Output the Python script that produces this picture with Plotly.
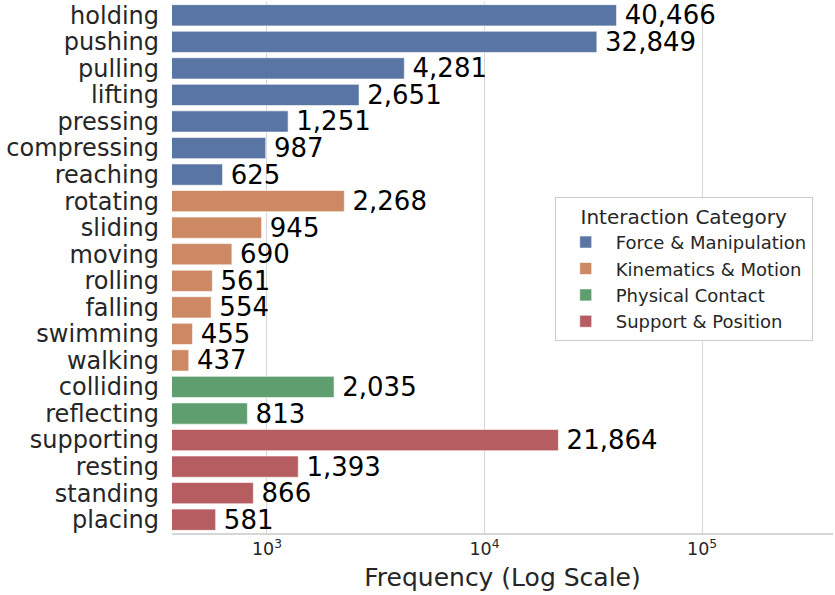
import plotly.graph_objects as go
import math

labels = ["holding", "pushing", "pulling", "lifting", "pressing", "compressing", "reaching",
          "rotating", "sliding", "moving", "rolling", "falling", "swimming", "walking",
          "colliding", "reflecting",
          "supporting", "resting", "standing", "placing"]
values = [40466, 32849, 4281, 2651, 1251, 987, 625,
          2268, 945, 690, 561, 554, 455, 437,
          2035, 813,
          21864, 1393, 866, 581]
categories = (["Force & Manipulation"] * 7 + ["Kinematics & Motion"] * 7 +
              ["Physical Contact"] * 2 + ["Support & Position"] * 4)
category_order = ["Force & Manipulation", "Kinematics & Motion", "Physical Contact", "Support & Position"]
colors = {"Force & Manipulation": "#5975a4", "Kinematics & Motion": "#cc8963",
          "Physical Contact": "#5f9e6e", "Support & Position": "#b55d60"}

fig = go.Figure()
for cat in category_order:
    ys = [l for l, c in zip(labels, categories) if c == cat]
    xs = [v for v, c in zip(values, categories) if c == cat]
    fig.add_trace(go.Bar(
        x=xs, y=ys, orientation="h", name=cat,
        marker=dict(color=colors[cat], line=dict(color="rgba(255,255,255,0.6)", width=1)),
        text=["\u2009" + f"{v:,}" for v in xs], textposition="outside",
        textfont=dict(size=26, color="black", family="DejaVu Sans"),
        constraintext="none",
        cliponaxis=False, width=0.8,
    ))

fig.update_layout(
    width=835, height=595,
    margin=dict(l=172, r=2, t=2, b=62),
    plot_bgcolor="white", paper_bgcolor="white",
    font=dict(family="DejaVu Sans", color="#262626"),
    barmode="overlay",
    showlegend=True,
    legend=dict(
        title=dict(text="Interaction Category", font=dict(size=20, color="#262626"), side="top center"),
        font=dict(size=18, color="#262626"),
        x=0.579, xanchor="left", y=0.633, yanchor="top",
        bgcolor="white", bordercolor="#cccccc", borderwidth=1,
        traceorder="normal", itemwidth=50,
    ),
)
fig.update_yaxes(
    categoryorder="array", categoryarray=labels,
    tickmode="linear", tick0=0, dtick=1,
    tickfont=dict(size=24, color="#262626"), showgrid=False, showline=False,
    ticks="", ticklen=0, range=[19.5, -0.5], ticklabelstandoff=12,
)
fig.update_xaxes(
    type="log", range=[math.log10(366), math.log10(400000)],
    dtick=1, exponentformat="power", showexponent="all",
    tickfont=dict(size=14, color="#262626"),
    showgrid=True, gridcolor="#d6d6d6", gridwidth=1,
    showline=True, linecolor="#d6d6d6", linewidth=1.5,
    title=dict(text="Frequency (Log Scale)", font=dict(size=25, color="#262626"), standoff=10),
    ticks="", zeroline=False,
)

fig.write_html("out.html")
